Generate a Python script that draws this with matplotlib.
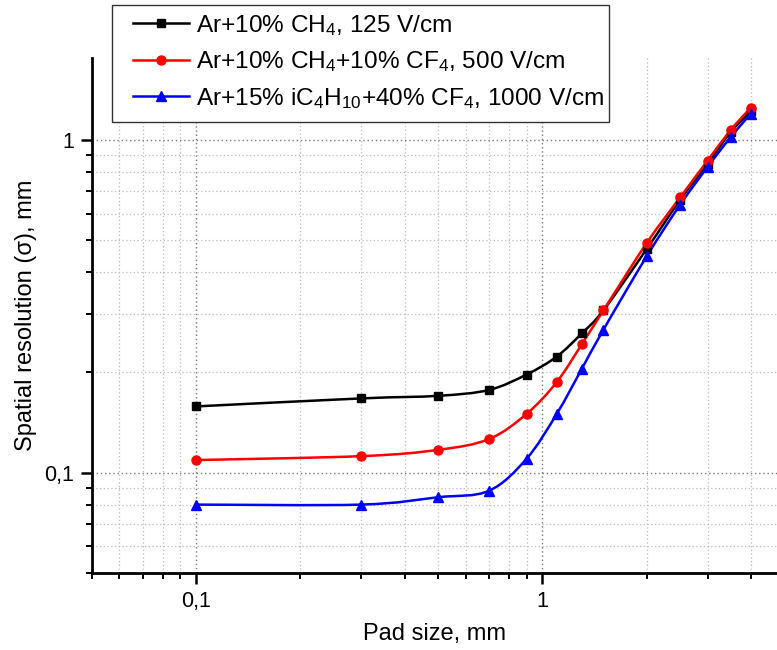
import numpy as np
import matplotlib
matplotlib.use("Agg")
import matplotlib.pyplot as plt
from matplotlib.path import Path
from matplotlib.patches import PathPatch, Rectangle
from matplotlib.lines import Line2D
from matplotlib.ticker import FixedLocator, FuncFormatter, NullFormatter

plt.rcParams['font.family'] = ['Liberation Sans', 'DejaVu Sans']
plt.rcParams['mathtext.fontset'] = 'custom'
plt.rcParams['mathtext.rm'] = 'Liberation Sans'
plt.rcParams['mathtext.it'] = 'Liberation Sans:italic'

# ---- data ----
pad_size = [0.1, 0.3, 0.5, 0.7, 0.9, 1.1, 1.3, 1.5, 2.0, 2.5, 3.0, 3.5, 4.0]
res_ch4 = [0.158, 0.167, 0.170, 0.177, 0.197, 0.223, 0.262, 0.307, 0.469, 0.660, 0.847, 1.055, 1.216]
res_ch4_cf4 = [0.109, 0.112, 0.117, 0.126, 0.150, 0.187, 0.243, 0.307, 0.489, 0.671, 0.865, 1.070, 1.248]
res_ic4h10_cf4 = [0.0801, 0.0801, 0.0843, 0.0881, 0.110, 0.150, 0.205, 0.2685, 0.446, 0.638, 0.828, 1.019, 1.197]

labels = [r'Ar+10% CH$_4$, 125 V/cm',
          r'Ar+10% CH$_4$+10% CF$_4$, 500 V/cm',
          r'Ar+15% iC$_4$H$_{10}$+40% CF$_4$, 1000 V/cm']
colors = ['#000000', '#ff0000', '#0000ff']
markers = ['s', 'o', '^']
msizes = [5.5, 6.5, 6.5]

x_ticks = [0.1, 1]
x_ticklabels = ['0,1', '1']
y_ticks = [0.1, 1]
y_ticklabels = ['0,1', '1']

fig = plt.figure(figsize=(7.77, 6.5), dpi=100)
ax = fig.add_axes([0.1184, 0.1189, 0.8816, 0.7919])
ax.set_xscale('log')
ax.set_yscale('log')
ax.set_xlim(0.05, 4.76)
ax.set_ylim(0.05, 1.76)


def smooth_path(xs, ys):
    u = np.log10(np.asarray(xs, float))
    v = np.log10(np.asarray(ys, float))
    P = np.column_stack([u, v])
    n = len(P)
    verts = [P[0]]
    codes = [Path.MOVETO]
    for i in range(n - 1):
        p0 = P[i - 1] if i > 0 else P[i]
        p1 = P[i]
        p2 = P[i + 1]
        p3 = P[i + 2] if i + 2 < n else P[i + 1]
        c1 = p1 + (p2 - p0) / 6.0
        c2 = p2 - (p3 - p1) / 6.0
        verts += [c1, c2, p2]
        codes += [Path.CURVE4] * 3
    verts = 10 ** np.array(verts)
    return Path(verts, codes)


series = [res_ch4, res_ch4_cf4, res_ic4h10_cf4]
handles = []
for ys, c, m, ms, lab in zip(series, colors, markers, msizes, labels):
    patch = PathPatch(smooth_path(pad_size, ys), facecolor='none', edgecolor=c,
                      lw=1.8, transform=ax.transData, zorder=3)
    ax.add_patch(patch)
    ax.plot(pad_size, ys, linestyle='none', marker=m, color=c, markersize=ms, zorder=4)
    handles.append(Line2D([], [], color=c, lw=1.8, marker=m, markersize=ms))

# ticks
ax.xaxis.set_major_locator(FixedLocator(x_ticks))
ax.xaxis.set_major_formatter(FuncFormatter(lambda v, p: x_ticklabels[x_ticks.index(v)] if v in x_ticks else ''))
ax.yaxis.set_major_locator(FixedLocator(y_ticks))
ax.yaxis.set_major_formatter(FuncFormatter(lambda v, p: y_ticklabels[y_ticks.index(v)] if v in y_ticks else ''))
ax.xaxis.set_minor_formatter(NullFormatter())
ax.yaxis.set_minor_formatter(NullFormatter())
ax.tick_params(which='major', direction='out', length=8, width=1.8, labelsize=15.5, pad=5)
ax.tick_params(which='minor', direction='out', length=4.5, width=1.4)

for s in ['top', 'right']:
    ax.spines[s].set_visible(False)
for s in ['left', 'bottom']:
    ax.spines[s].set_linewidth(2.0)

ax.grid(True, which='major', linestyle=(0, (1, 2)), color='#777777', lw=1.0, zorder=0)
ax.grid(True, which='minor', linestyle=(0, (1, 2)), color='#bbbbbb', lw=0.9, zorder=0)
ax.set_axisbelow(True)

ax.set_xlabel('Pad size, mm', fontsize=17, labelpad=8)
ax.set_ylabel('Spatial resolution (σ), mm', fontsize=17, labelpad=5)

# legend frame drawn separately
W, H = 777.0, 650.0
fig.patches.append(Rectangle((112 / W, 1 - 122 / H), (609 - 112) / W, (122 - 5) / H,
                             transform=fig.transFigure, facecolor='white',
                             edgecolor='#333333', lw=1.0, zorder=5))
leg = fig.legend(handles=handles, labels=labels, loc='upper left',
                 bbox_to_anchor=(133 / W, 1 - 13 / H), bbox_transform=fig.transFigure,
                 fontsize=17.6, frameon=False, handlelength=2.3,
                 handletextpad=0.28, borderpad=0, labelspacing=0.47, borderaxespad=0)
leg.set_zorder(6)

fig.savefig('out.png', dpi=100)
